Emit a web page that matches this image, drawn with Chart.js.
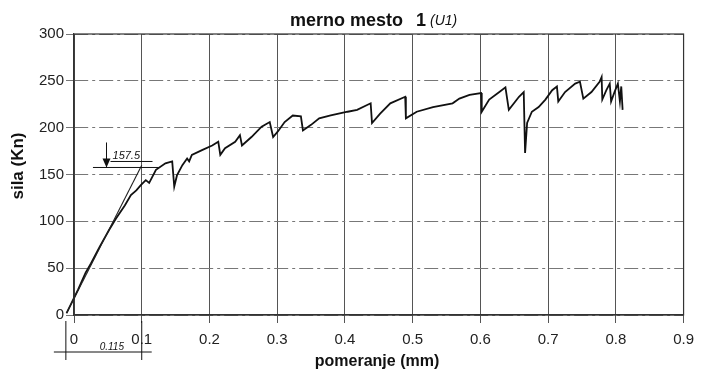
<!DOCTYPE html>
<html>
<head>
<meta charset="utf-8">
<script src="https://cdn.jsdelivr.net/npm/chart.js@4"></script>
<style>
  html, body { margin: 0; padding: 0; background: #fff; }
  #wrap { width: 702px; height: 372px; }
</style>
</head>
<body>
<div id="wrap"><canvas id="chart" width="702" height="372"></canvas></div>
<script>
// main load-displacement trace (mm, kN)
const disp = [-0.011, 0.006, 0.017, 0.025, 0.038, 0.052, 0.062, 0.075, 0.084, 0.092, 0.099,
  0.106, 0.111, 0.121, 0.135, 0.145, 0.148, 0.152, 0.160, 0.167, 0.170, 0.174, 0.189, 0.204,
  0.213, 0.216, 0.223, 0.238, 0.245, 0.248, 0.262, 0.277, 0.289, 0.294, 0.301, 0.311, 0.323,
  0.335, 0.338, 0.350, 0.362, 0.379, 0.404, 0.418, 0.438, 0.440, 0.452, 0.467, 0.489, 0.490,
  0.506, 0.530, 0.559, 0.569, 0.584, 0.601, 0.602, 0.613, 0.628, 0.637, 0.642, 0.657, 0.664,
  0.666, 0.669, 0.676, 0.686, 0.696, 0.706, 0.713, 0.715, 0.725, 0.740, 0.747, 0.752, 0.764,
  0.776, 0.779, 0.780, 0.786, 0.791, 0.793, 0.798, 0.803, 0.806, 0.808, 0.810];
const force = [2, 27, 45, 55, 73, 91, 103, 117, 128, 133, 139,
  144, 141, 155, 162, 164, 137, 149, 160, 167, 164, 171, 176, 181,
  185, 171, 178, 185, 192, 181, 190, 201, 206, 190, 196, 206, 213,
  212, 197, 203, 210, 213, 217, 219, 226, 205, 215, 226, 233, 210,
  217, 222, 226, 231, 235, 237, 217, 230, 238, 243, 219, 233, 238,
  173, 205, 217, 222, 230, 240, 244, 228, 238, 247, 249, 231, 238,
  249, 254, 230, 240, 247, 228, 238, 247, 228, 244, 219];

// first loading branch up to the marked peak
const loadDisp = [-0.011, 0.1];
const loadForce = [2, 160];

// hand-written marks
const peakLabel = "157.5";
const peakForce = 157.5;
const dispLabel = "0.115";
const dimFrom = -0.012;
const dimTo = 0.1;

const xTicks = [0, 0.1, 0.2, 0.3, 0.4, 0.5, 0.6, 0.7, 0.8, 0.9];
const yTicks = [0, 50, 100, 150, 200, 250, 300];

const toPoints = (xs, ys) => xs.map((x, i) => ({ x: x, y: ys[i] }));

const FONT = "'Liberation Sans', Arial, sans-serif";

const decorations = {
  id: "decorations",
  afterDraw(chart) {
    const ctx = chart.ctx;
    const a = chart.chartArea;
    const xs = chart.scales.x;
    const ys = chart.scales.y;
    ctx.save();

    // frame
    ctx.strokeStyle = "#333";
    ctx.lineWidth = 1.2;
    ctx.strokeRect(a.left, a.top, a.right - a.left, a.bottom - a.top);

    // title
    ctx.fillStyle = "#111";
    ctx.textBaseline = "middle";
    ctx.textAlign = "left";
    ctx.font = "bold 18px " + FONT;
    ctx.fillText("merno mesto", 290, 21);
    const tw = ctx.measureText("merno mesto").width;
    ctx.fillText("1", 290 + tw + 13, 21);
    ctx.font = "italic 14px " + FONT;
    ctx.fillText("(U1)", 290 + tw + 27, 21);

    // axis titles
    ctx.font = "bold 16px " + FONT;
    ctx.textAlign = "center";
    ctx.fillText("pomeranje (mm)", 377, 362);
    ctx.save();
    ctx.font = "bold 17px " + FONT;
    ctx.translate(18, 166);
    ctx.rotate(-Math.PI / 2);
    ctx.fillText("sila (Kn)", 0, 0);
    ctx.restore();

    // peak force marker
    ctx.strokeStyle = "#111";
    ctx.lineWidth = 1;
    const py = ys.getPixelForValue(peakForce);
    const ax = xs.getPixelForValue(0.048);
    ctx.beginPath();
    ctx.moveTo(xs.getPixelForValue(0.028), py);
    ctx.lineTo(xs.getPixelForValue(0.125), py);
    ctx.moveTo(ax, py - 25);
    ctx.lineTo(ax, py);
    ctx.stroke();
    ctx.beginPath();
    ctx.moveTo(ax, py);
    ctx.lineTo(ax - 4, py - 9);
    ctx.lineTo(ax + 4, py - 9);
    ctx.closePath();
    ctx.fill();
    ctx.font = "italic 11px " + FONT;
    ctx.textAlign = "left";
    ctx.fillText(peakLabel, ax + 6, py - 12);
    ctx.beginPath();
    ctx.moveTo(ax + 4, py - 6);
    ctx.lineTo(ax + 46, py - 6);
    ctx.stroke();

    // displacement dimension under the axis
    const d1 = xs.getPixelForValue(dimFrom);
    const d2 = xs.getPixelForValue(dimTo);
    const dy = a.bottom + 37;
    ctx.beginPath();
    ctx.moveTo(d1, a.bottom + 6);
    ctx.lineTo(d1, dy + 8);
    ctx.moveTo(d2, a.bottom + 6);
    ctx.lineTo(d2, dy + 8);
    ctx.moveTo(d1 - 12, dy);
    ctx.lineTo(d2 + 10, dy);
    ctx.stroke();
    ctx.font = "italic 10px " + FONT;
    ctx.textAlign = "center";
    ctx.fillText(dispLabel, (d1 + d2) / 2 + 8, dy - 5);

    ctx.restore();
  }
};

new Chart(document.getElementById("chart"), {
  type: "scatter",
  data: {
    datasets: [
      {
        data: toPoints(loadDisp, loadForce),
        showLine: true,
        borderColor: "#222",
        borderWidth: 1.1,
        pointRadius: 0,
        clip: false
      },
      {
        data: toPoints(disp, force),
        showLine: true,
        borderColor: "#111",
        borderWidth: 1.8,
        pointRadius: 0,
        tension: 0,
        clip: false
      }
    ]
  },
  options: {
    responsive: false,
    animation: false,
    layout: { padding: { top: 34, right: 12, left: 0, bottom: 0 } },
    plugins: {
      legend: { display: false },
      tooltip: { enabled: false },
      title: { display: false }
    },
    scales: {
      x: {
        type: "linear",
        min: 0,
        max: 0.9,
        afterBuildTicks(scale) { scale.ticks = xTicks.map(v => ({ value: v })); },
        afterFit(scale) { scale.height = 57; },
        ticks: {
          color: "#222",
          font: { family: FONT, size: 15 },
          padding: 8,
          maxRotation: 0,
          callback: v => v === 0 ? "0" : v.toFixed(1)
        },
        grid: { color: "#555", lineWidth: 1, tickLength: 8 },
        border: { color: "#333", width: 1.2 }
      },
      y: {
        type: "linear",
        min: 0,
        max: 300,
        afterBuildTicks(scale) { scale.ticks = yTicks.map(v => ({ value: v })); },
        afterFit(scale) { scale.width = 74; },
        ticks: {
          color: "#222",
          font: { family: FONT, size: 15 },
          padding: 2
        },
        grid: { color: "#777", lineWidth: 1, tickLength: 8 },
        border: { color: "#333", width: 1.2, dash: [14, 4, 3, 4] }
      }
    }
  },
  plugins: [decorations]
});
</script>
</body>
</html>
